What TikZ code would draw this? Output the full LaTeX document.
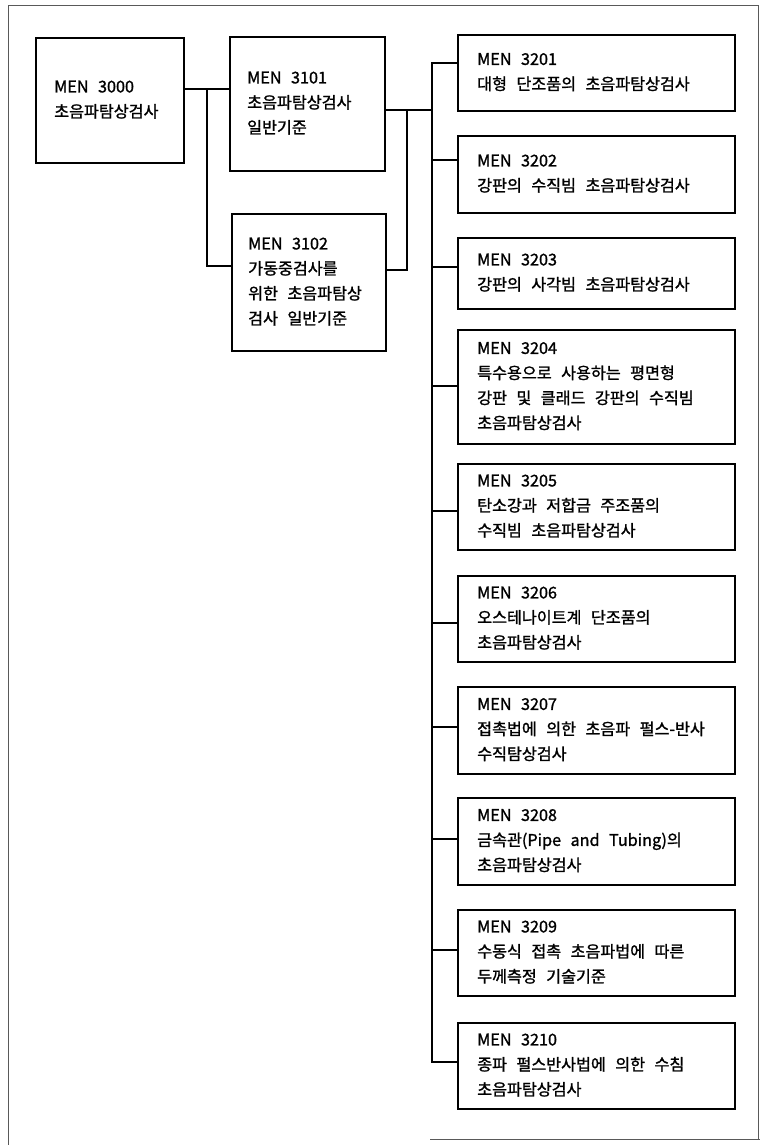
\documentclass[tikz,border=0pt]{standalone}
\usepackage{fontspec}
\newfontfamily\kr[WordSpace=2.6,FakeBold=1.3]{Noto Sans CJK KR}
\begin{document}
\begin{tikzpicture}[x=1pt,y=-1pt,
  box/.style={draw, line width=2.2pt, anchor=north west, inner sep=0pt},
  txt/.style={anchor=west, align=left, inner sep=0pt, font=\kr\fontsize{16.2}{25}\selectfont},
  conn/.style={line width=2pt, line join=miter},
  frame/.style={line width=0.7pt, black!65}]
\useasboundingbox (0,0) rectangle (760,1145);
\draw[frame] (8,1145) -- (8,5) -- (758,5) -- (758,1140);
\draw[frame] (430,1139) -- (760,1139);

% left boxes
\node[box, minimum width=148pt, minimum height=125pt] (b3000) at (35,37) {};
\node[box, minimum width=155pt, minimum height=134pt] (b3101) at (229,36) {};
\node[box, minimum width=154pt, minimum height=137pt] (b3102) at (231,213) {};
\node[txt] (l3000) at ([xshift=19pt,yshift=1pt]b3000.west) {MEN 3000\\초음파탐상검사};
\node[txt] (l3101) at ([xshift=18pt,yshift=1pt]b3101.west) {MEN 3101\\초음파탐상검사\\일반기준};
\node[txt] (l3102) at ([xshift=17pt,yshift=1pt]b3102.west) {MEN 3102\\가동중검사를\\위한 초음파탐상\\검사 일반기준};

% right column
\node[box, minimum width=277pt, minimum height=76pt] (b3201) at (457,34) {};
\node[box, minimum width=277pt, minimum height=77pt] (b3202) at (457,135) {};
\node[box, minimum width=277pt, minimum height=71pt] (b3203) at (457,237) {};
\node[box, minimum width=277pt, minimum height=114pt] (b3204) at (457,329) {};
\node[box, minimum width=277pt, minimum height=86pt] (b3205) at (457,463) {};
\node[box, minimum width=277pt, minimum height=86pt] (b3206) at (457,575) {};
\node[box, minimum width=277pt, minimum height=87pt] (b3207) at (457,686) {};
\node[box, minimum width=277pt, minimum height=87pt] (b3208) at (457,797) {};
\node[box, minimum width=277pt, minimum height=86pt] (b3209) at (457,909) {};
\node[box, minimum width=277pt, minimum height=86pt] (b3210) at (457,1022) {};

\node[txt] (l3201) at ([xshift=20pt,yshift=1pt]b3201.west) {MEN 3201\\대형 단조품의 초음파탐상검사};
\node[txt] (l3202) at ([xshift=20pt,yshift=1pt]b3202.west) {MEN 3202\\강판의 수직빔 초음파탐상검사};
\node[txt] (l3203) at ([xshift=20pt,yshift=1pt]b3203.west) {MEN 3203\\강판의 사각빔 초음파탐상검사};
\node[txt] (l3204) at ([xshift=20pt,yshift=1pt]b3204.west) {MEN 3204\\특수용으로 사용하는 평면형\\강판 및 클래드 강판의 수직빔\\초음파탐상검사};
\node[txt] (l3205) at ([xshift=20pt,yshift=1pt]b3205.west) {MEN 3205\\탄소강과 저합금 주조품의\\수직빔 초음파탐상검사};
\node[txt] (l3206) at ([xshift=20pt,yshift=1pt]b3206.west) {MEN 3206\\오스테나이트계 단조품의\\초음파탐상검사};
\node[txt] (l3207) at ([xshift=20pt,yshift=1pt]b3207.west) {MEN 3207\\접촉법에 의한 초음파 펄스-반사\\수직탐상검사};
\node[txt] (l3208) at ([xshift=20pt,yshift=1pt]b3208.west) {MEN 3208\\금속관(Pipe and Tubing)의\\초음파탐상검사};
\node[txt] (l3209) at ([xshift=20pt,yshift=1pt]b3209.west) {MEN 3209\\수동식 접촉 초음파법에 따른\\두께측정 기술기준};
\node[txt] (l3210) at ([xshift=20pt,yshift=1pt]b3210.west) {MEN 3210\\종파 펄스반사법에 의한 수침\\초음파탐상검사};

% left connectors
\coordinate (j1) at (207,89);
\coordinate (j2) at (207,266);
\draw[conn] (b3000.east |- j1) -- (b3101.west |- j1);
\draw[conn] (j1) -- (j2) -- (b3102.west |- j2);
\coordinate (k1) at (407,110);
\coordinate (k2) at (407,270);
\coordinate (t0) at (432,110);
\draw[conn] (b3101.east |- k1) -- (t0);
\draw[conn] (k1) -- (k2) -- (b3102.east |- k2);

% trunk
\coordinate (ttop) at (432,63);
\coordinate (tbot) at (432,1062);
\draw[conn] (b3201.west |- ttop) -- (ttop) -- (tbot) -- (b3210.west |- tbot);
\coordinate (t2) at (432,160);
\coordinate (t3) at (432,267);
\coordinate (t4) at (432,386);
\coordinate (t5) at (432,511);
\coordinate (t6) at (432,623);
\coordinate (t7) at (432,727);
\coordinate (t8) at (432,839);
\coordinate (t9) at (432,950);
\draw[conn] (t2) -- (b3202.west |- t2);
\draw[conn] (t3) -- (b3203.west |- t3);
\draw[conn] (t4) -- (b3204.west |- t4);
\draw[conn] (t5) -- (b3205.west |- t5);
\draw[conn] (t6) -- (b3206.west |- t6);
\draw[conn] (t7) -- (b3207.west |- t7);
\draw[conn] (t8) -- (b3208.west |- t8);
\draw[conn] (t9) -- (b3209.west |- t9);
\end{tikzpicture}
\end{document}
